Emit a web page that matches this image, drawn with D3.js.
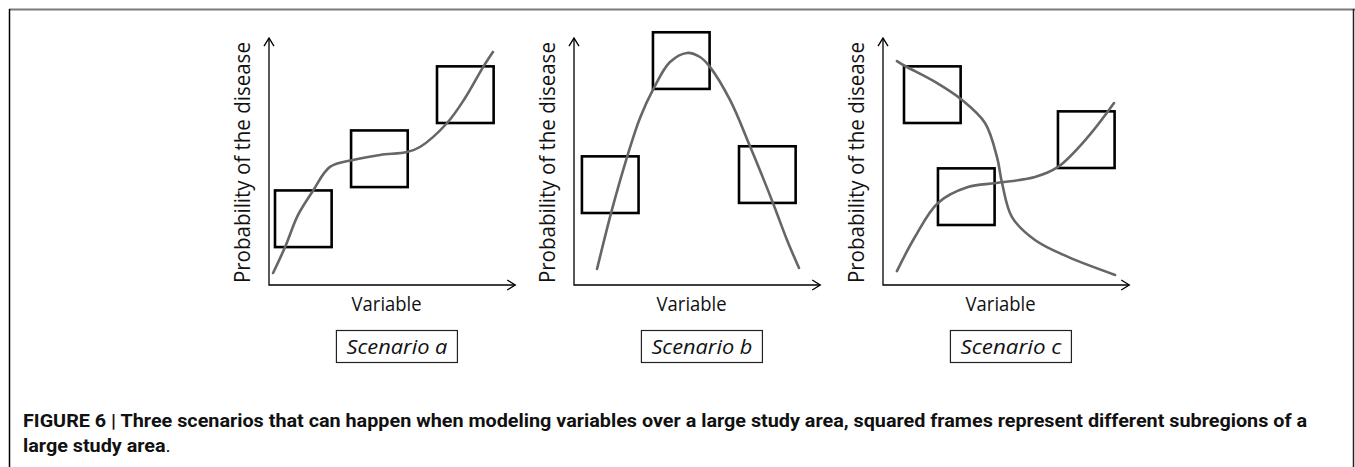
<!DOCTYPE html>
<html><head><meta charset="utf-8">
<script src="https://cdn.jsdelivr.net/npm/d3@7"></script>
<style>
html,body{margin:0;padding:0;background:#fff;}
svg{display:block;}
</style></head>
<body>
<svg id="chart" width="1355" height="467"></svg>
<script>
// ---- data (arbitrary units 0..100 on each axis) ----
const scenarios = ["Scenario a", "Scenario b", "Scenario c"];
const axisTitleX = "Variable";
const axisTitleY = "Probability of the disease";

// frames (lower-left corner, units)
const boxesA = [[2.5, 15.8], [34.2, 40.8], [70, 67.5]];
const boxesB = [[3.3, 30], [32.9, 81.7], [68.75, 34.2]];
const boxesC = [[8.75, 67.5], [22.9, 25], [72.9, 48.75]];
const boxSize = 23.6;

const curveA = [[1.7,5],[6.7,15.8],[12.1,29.2],[18.3,39.2],[25.4,49.2],[35,52.1],[46.3,54.2],[57.5,55.4],[62.9,57.5],[74.2,67.5],[81.7,77.9],[89.2,90.8],[93.3,97.1]];
const curveB = [[9.6,6.7],[15.8,31.3],[22.1,53.3],[27.5,69.6],[33.3,82.1],[40,92.9],[47.1,96.7],[52.5,95],[56.7,90.8],[65,77.1],[73.3,57.9],[82.9,34.2],[88.75,18.75],[93.75,7.1]];
const curveC1 = [[5.8,93.3],[9.2,91.25],[21.7,84.6],[32.9,77.1],[42.5,67.5],[47.5,53.3],[49.6,42.5],[53.75,28.3],[63.3,18.75],[77.1,11.7],[96.7,4.2]];
const curveC2 = [[5.8,5.8],[13.3,20],[22.9,34.2],[35.4,40.8],[47.1,42.5],[63.3,45],[72.9,49.2],[85.4,61.7],[96.25,75.8]];

const captionLine1 = "FIGURE 6 | Three scenarios that can happen when modeling variables over a large study area, squared frames represent different subregions of a";
const captionLine2 = "large study area";

const panels = [
  {x0: 269, boxes: boxesA, curves: [curveA], label: scenarios[0]},
  {x0: 574, boxes: boxesB, curves: [curveB], label: scenarios[1]},
  {x0: 883, boxes: boxesC, curves: [curveC1, curveC2], label: scenarios[2]}
];

const svg = d3.select("#chart");

// outer frame
svg.append("line").attr("x1", 9).attr("x2", 1355).attr("y1", 9.5).attr("y2", 9.5)
  .attr("stroke", "#7a7a7a").attr("stroke-width", 2);
svg.append("line").attr("x1", 9.5).attr("x2", 9.5).attr("y1", 9).attr("y2", 467)
  .attr("stroke", "#000").attr("stroke-width", 1.5);
svg.append("line").attr("x1", 1353.5).attr("x2", 1353.5).attr("y1", 9).attr("y2", 467)
  .attr("stroke", "#222").attr("stroke-width", 1.5);

const labelFont = "'Open Sans', 'DejaVu Sans', sans-serif";

panels.forEach(p => {
  const x = d3.scaleLinear().domain([0, 100]).range([p.x0, p.x0 + 240]);
  const y = d3.scaleLinear().domain([0, 100]).range([285, 45]);
  const g = svg.append("g");

  // axes with open arrowheads
  const ax = x(0), ay = y(0), xEnd = x(102.6), yEnd = y(102.9);
  g.append("path")
    .attr("d", `M${ax},${yEnd}V${ay}H${xEnd}`)
    .attr("fill", "none").attr("stroke", "#000").attr("stroke-width", 1.3);
  g.append("path")
    .attr("d", `M${ax-5},${yEnd+8}L${ax},${yEnd}L${ax+5},${yEnd+8}`)
    .attr("fill", "none").attr("stroke", "#000").attr("stroke-width", 1.3);
  g.append("path")
    .attr("d", `M${xEnd-8},${ay-5}L${xEnd},${ay}L${xEnd-8},${ay+5}`)
    .attr("fill", "none").attr("stroke", "#000").attr("stroke-width", 1.3);

  // frames
  g.selectAll("rect.frame").data(p.boxes).join("rect")
    .attr("class", "frame")
    .attr("x", d => x(d[0]))
    .attr("y", d => y(d[1] + boxSize))
    .attr("width", d => x(d[0] + boxSize) - x(d[0]))
    .attr("height", d => y(d[1]) - y(d[1] + boxSize))
    .attr("fill", "none").attr("stroke", "#000").attr("stroke-width", 2.6);

  // curves
  const line = d3.line().x(d => x(d[0])).y(d => y(d[1])).curve(d3.curveCatmullRom.alpha(0.5));
  g.selectAll("path.curve").data(p.curves).join("path")
    .attr("class", "curve")
    .attr("d", line)
    .attr("fill", "none").attr("stroke", "#666").attr("stroke-width", 2.6)
    .attr("stroke-linecap", "round");

  // axis titles
  g.append("text")
    .attr("transform", `translate(${ax - 19},${y(51)}) rotate(-90)`)
    .attr("text-anchor", "middle")
    .attr("font-family", labelFont).attr("font-size", 21)
    .attr("fill", "#111")
    .attr("textLength", 241).attr("lengthAdjust", "spacingAndGlyphs")
    .text(axisTitleY);
  g.append("text")
    .attr("x", x(49)).attr("y", 311)
    .attr("text-anchor", "middle")
    .attr("font-family", labelFont).attr("font-size", 20.5)
    .attr("fill", "#111")
    .attr("textLength", 70).attr("lengthAdjust", "spacingAndGlyphs")
    .text(axisTitleX);

  // scenario box
  const cx = x(53.3);
  g.append("rect")
    .attr("x", cx - 60.5).attr("y", 330.5).attr("width", 121).attr("height", 32)
    .attr("fill", "none").attr("stroke", "#222").attr("stroke-width", 1.2);
  g.append("text")
    .attr("x", cx).attr("y", 354)
    .attr("text-anchor", "middle")
    .attr("font-family", labelFont).attr("font-size", 20.5).attr("font-style", "italic")
    .attr("fill", "#111")
    .attr("textLength", 101).attr("lengthAdjust", "spacingAndGlyphs")
    .text(p.label);
});

// caption (condensed bold)
const capFont = "'Liberation Sans Narrow', 'Roboto', 'Liberation Sans', sans-serif";
const cap1 = svg.append("text")
  .attr("x", 23).attr("y", 427)
  .attr("font-family", capFont).attr("font-size", 18).attr("font-weight", "bold")
  .attr("fill", "#111")
  .text(captionLine1);
const natural1 = cap1.node().getComputedTextLength();
const ratio = 1284 / natural1;
cap1.attr("textLength", 1284).attr("lengthAdjust", "spacingAndGlyphs");

const t2 = svg.append("text")
  .attr("x", 23).attr("y", 452)
  .attr("font-family", capFont).attr("font-size", 18)
  .attr("fill", "#111");
t2.append("tspan").attr("font-weight", "bold").text(captionLine2);
t2.append("tspan").text(".");
const natural2 = t2.node().getComputedTextLength();
t2.attr("textLength", natural2 * ratio).attr("lengthAdjust", "spacingAndGlyphs");
</script>
</body></html>
